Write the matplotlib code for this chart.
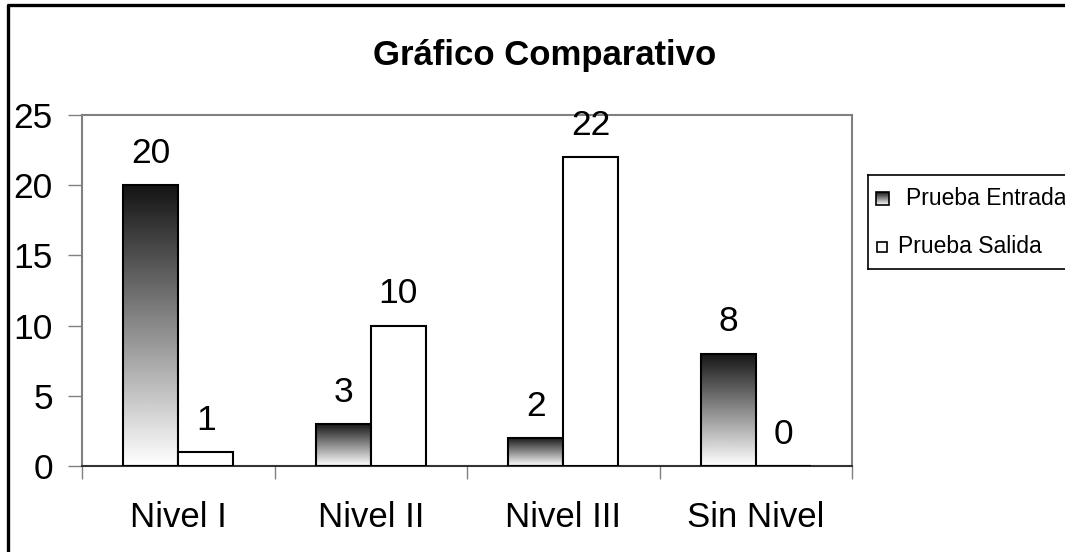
import numpy as np
import matplotlib
matplotlib.use("Agg")
import matplotlib.pyplot as plt
from matplotlib.patches import Rectangle
from matplotlib.lines import Line2D

categories = ["Nivel I", "Nivel II", "Nivel III", "Sin Nivel"]
series_names = ["Prueba Entrada", "Prueba Salida"]
entrada = [20, 3, 2, 8]
salida = [1, 10, 22, 0]
y_ticks = [0, 5, 10, 15, 20, 25]
title = "Gráfico Comparativo"

plt.rcParams["font.family"] = ["Liberation Sans", "DejaVu Sans"]

W, H = 1065, 552
fig = plt.figure(figsize=(W / 100, H / 100), dpi=100)

# plot area
ax = fig.add_axes([82 / W, 1 - 466 / H, 770 / W, 351 / H])

x = np.arange(len(categories))
w = 0.286

# vertical gradient, dark at top -> white at bottom
grad = np.linspace(0.08, 1.0, 256).reshape(-1, 1)

bars1 = ax.bar(x - w / 2, entrada, w, facecolor="none",
               edgecolor="black", linewidth=1.5, zorder=3)
for b in bars1:
    im = ax.imshow(grad, cmap="gray", vmin=0, vmax=1, aspect="auto",
                   origin="upper", zorder=2,
                   extent=(b.get_x(), b.get_x() + b.get_width(), 0, b.get_height()))
    im.set_clip_path(b)

bars2 = ax.bar(x + w / 2, salida, w, facecolor="white",
               edgecolor="black", linewidth=1.5, zorder=3)

for bars, vals in [(bars1, entrada), (bars2, salida)]:
    for b, v in zip(bars, vals):
        ax.annotate(str(v), (b.get_x() + b.get_width() / 2, v),
                    xytext=(0, 16), textcoords="offset points",
                    ha="center", va="baseline", fontsize=25.5)

ax.set_xlim(-0.5, 3.5)
ax.set_ylim(0, 25)
ax.set_yticks(y_ticks)
ax.tick_params(axis="y", length=10, width=1, color="#808080",
               labelsize=25.5, pad=11)
ax.set_xticks(x)
ax.set_xticklabels(categories)
ax.tick_params(axis="x", which="major", length=0, labelsize=25, pad=25)
ax.set_xticks(np.arange(-0.5, 4, 1), minor=True)
ax.tick_params(axis="x", which="minor", length=9, width=1, color="#808080")

for s in ["top", "right", "left"]:
    ax.spines[s].set_color("#808080")
    ax.spines[s].set_linewidth(1.5)
ax.spines["bottom"].set_color("#333333")
ax.spines["bottom"].set_linewidth(1.5)

# title
fig.text(545 / W, 1 - 55 / H, title, ha="center", va="center",
         fontsize=25, fontweight="bold")

# outer frame (left and top visible)
fig.add_artist(Line2D([8 / W, 8 / W, 1.01], [-0.01, 1 - 5 / H, 1 - 5 / H],
                      color="black", linewidth=2.4,
                      transform=fig.transFigure))

# legend
lax = fig.add_axes([868 / W, 1 - 269 / H, 220 / W, 94 / H])
lax.set_xticks([])
lax.set_yticks([])
for s in lax.spines.values():
    s.set_color("black")
    s.set_linewidth(1.2)

sq1 = Rectangle((8, 64), 13, 13, facecolor="none", edgecolor="black",
                linewidth=1.2, zorder=3)
lax.add_patch(sq1)
im = lax.imshow(grad, cmap="gray", vmin=0, vmax=1, aspect="auto",
                origin="upper", extent=(8, 21, 64, 77), zorder=2)
im.set_clip_path(sq1)
lax.set_xlim(0, 220)
lax.set_ylim(0, 94)
lax.text(38, 71, series_names[0], va="center", ha="left", fontsize=16.5)

lax.add_patch(Rectangle((9, 17), 10, 10, facecolor="white",
                        edgecolor="black", linewidth=1.2))
lax.text(30, 22.5, series_names[1], va="center", ha="left", fontsize=16.5)

plt.savefig("out.png", dpi=100)
